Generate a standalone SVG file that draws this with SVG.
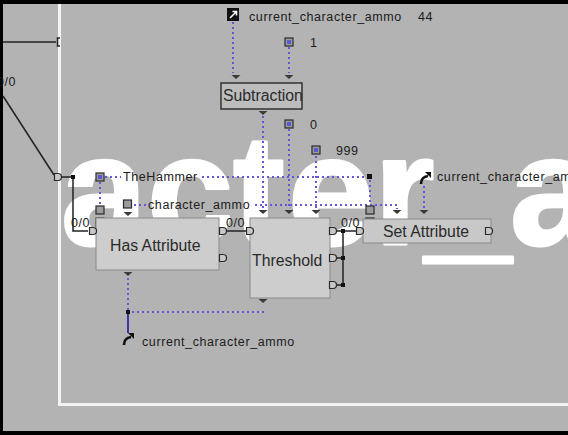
<svg xmlns="http://www.w3.org/2000/svg" width="568" height="435" viewBox="0 0 568 435">
<style>
.dot{stroke:#6358d8;stroke-width:2;stroke-dasharray:2 3;fill:none}
.wire{stroke:#222;stroke-width:1.5;fill:none}
.lbl{font-family:"Liberation Sans",Arial,sans-serif;font-size:12.5px;letter-spacing:0.6px;fill:#1c1c1c}
.big{font-family:"Liberation Sans",Arial,sans-serif;font-size:15.8px;fill:#2a2a2a}
.node{fill:#cdcdcd;stroke:#8a8a8a;stroke-width:1}
.tri{fill:#3a3a3a}
.port{fill:#c8c8c8;stroke:#2a2a2a;stroke-width:1.2}
.sq{fill:#9c9c9c;stroke:#2a2a2a;stroke-width:1.2}
.bd{fill:#111}
</style>
<defs>
<clipPath id="inner"><rect x="61" y="4" width="507" height="399"/></clipPath>
<path id="D" d="M-3.5,-3.5 h3.5 a3.5 3.5 0 0 1 0 7 h-3.5 z"/>
<path id="tri" d="M-4.5,0 h9 l-4.5,4 z"/>
<rect id="sq" x="-4" y="-4" width="8" height="8"/>
</defs>

<rect x="0" y="0" width="568" height="435" fill="#b3b3b3"/>

<g clip-path="url(#inner)">
<text font-family="'Liberation Sans',Arial,sans-serif" font-weight="bold" font-size="155" fill="#ffffff" stroke="#ffffff" stroke-width="3" stroke-linejoin="round" y="244" x="-266 -180 -85 1 61 147 233 288 374 425 510">character_a</text>
</g>

<g id="frame">
<rect x="58" y="4" width="3" height="402" fill="#f4f4f4"/>
<rect x="58" y="403" width="510" height="3" fill="#f4f4f4"/>
<rect x="0" y="0" width="568" height="4" fill="#000"/>
<rect x="0" y="0" width="3" height="435" fill="#000"/>
<rect x="0" y="431" width="568" height="4" fill="#000"/>
</g>

<g id="connectors">
<line class="dot" x1="233" y1="22" x2="233" y2="73"/>
<line class="dot" x1="289" y1="47" x2="289" y2="73"/>
<line class="dot" x1="263" y1="116" x2="263" y2="208"/>
<line class="dot" x1="289" y1="129" x2="289" y2="208"/>
<line class="dot" x1="316" y1="156" x2="316" y2="208"/>
<line class="dot" x1="105" y1="177" x2="121" y2="177"/>
<line class="dot" x1="202" y1="177" x2="367" y2="177"/>
<line class="dot" x1="370" y1="180" x2="370" y2="205"/>
<line class="dot" x1="100" y1="182" x2="100" y2="205"/>
<line class="dot" x1="134" y1="205" x2="146" y2="205"/>
<path class="dot" d="M255,205 H397 V209"/>
<line class="dot" x1="424" y1="186" x2="424" y2="208"/>
<line class="dot" x1="128" y1="278" x2="128" y2="310"/>
<line class="dot" x1="132" y1="312" x2="264" y2="312"/>
<line x1="128" y1="314" x2="128" y2="333" stroke="#3b34a8" stroke-width="2"/>

<line class="wire" x1="3" y1="42" x2="56" y2="42" stroke-width="2.2"/>
<path d="M60,38 h-2.5 v8 h2.5" fill="none" stroke="#222" stroke-width="1.5"/>
<line class="wire" x1="3" y1="96" x2="54" y2="175"/>
<path class="wire" d="M62,177 H73 V231 H88"/>
<line class="wire" x1="227" y1="231" x2="247" y2="231"/>
<path class="wire" d="M337,231 H357 M343,231 V285 M337,258 H343 M337,285 H343"/>
<rect class="bd" x="71" y="175" width="4" height="4"/>
<rect class="bd" x="341" y="229" width="4" height="4"/>
<rect class="bd" x="341" y="256" width="4" height="4"/>
<rect class="bd" x="341" y="283" width="4" height="4"/>
<rect class="bd" x="367" y="174" width="5" height="5"/>
<rect class="bd" x="126" y="310" width="4" height="4"/>
<text class="lbl" x="-3" y="86">0/0</text>
<text class="lbl" x="71" y="227" letter-spacing="0">0/0</text>
<text class="lbl" x="226" y="227" letter-spacing="0">0/0</text>
<text class="lbl" x="341" y="227" letter-spacing="0">0/0</text>
</g>

<g id="left-port"><use href="#D" x="58" y="177" class="port"/></g>

<g id="current-ammo-top">
<rect x="227" y="8" width="12" height="13" fill="#111"/>
<path d="M230,18 L236,12 M232.5,11.5 H236.5 V15.5" stroke="#fff" stroke-width="1.6" fill="none"/>
<text class="lbl" x="249" y="21">current_character_ammo</text>
<text class="lbl" x="418" y="21">44</text>
</g>

<g id="const-1">
<use href="#sq" x="289" y="42" class="sq"/>
<rect x="287" y="40" width="4" height="4" fill="#5a5ad0"/>
<text class="lbl" x="310" y="47">1</text>
</g>

<g id="subtraction">
<use href="#tri" x="236" y="75" class="tri"/>
<use href="#tri" x="289" y="75" class="tri"/>
<rect x="221" y="83" width="81" height="26" fill="#bdbdbd" stroke="#333" stroke-width="1.5"/>
<text class="big" x="223" y="101" font-size="14.2" letter-spacing="0">Subtraction</text>
<use href="#tri" x="263" y="111" class="tri"/>
</g>

<g id="const-0">
<use href="#sq" x="289" y="124" class="sq"/>
<rect x="287" y="122" width="4" height="4" fill="#5a5ad0"/>
<text class="lbl" x="310" y="129">0</text>
</g>

<g id="const-999">
<use href="#sq" x="316" y="150" class="sq"/>
<rect x="314" y="148" width="4" height="4" fill="#5a5ad0"/>
<text class="lbl" x="336" y="155">999</text>
</g>

<g id="thehammer">
<use href="#sq" x="100" y="177" class="sq"/>
<rect x="98" y="175" width="4" height="4" fill="#5a5ad0"/>
<text class="lbl" x="123" y="181">TheHammer</text>
</g>

<g id="character-ammo">
<rect x="123.5" y="200" width="8" height="8" class="sq"/>
<text class="lbl" x="148" y="209">character_ammo</text>
</g>

<g id="current-ammo-right">
<path d="M421,184 Q421,177 428,176" stroke="#111" stroke-width="2.6" fill="none"/>
<path d="M425,172 H431 V178 Z" fill="#111"/>
<text class="lbl" x="437" y="181">current_character_ammo</text>
</g>

<g id="has-attribute">
<use href="#sq" x="100" y="210" class="sq"/>
<use href="#sq" x="100" y="222" class="sq"/>
<use href="#tri" x="128" y="212" class="tri"/>
<rect class="node" x="96" y="218" width="123" height="52"/>
<text class="big" x="110" y="251" font-size="16">Has Attribute</text>
<use href="#D" x="93" y="231" class="port"/>
<use href="#D" x="223" y="231" class="port"/>
<use href="#D" x="223" y="258" class="port"/>
<use href="#tri" x="128" y="272" class="tri"/>
</g>

<g id="threshold">
<use href="#tri" x="263" y="210" class="tri"/>
<use href="#tri" x="289" y="210" class="tri"/>
<use href="#tri" x="316" y="210" class="tri"/>
<rect class="node" x="250" y="218" width="80" height="80"/>
<text class="big" x="252" y="266" font-size="16.6">Threshold</text>
<use href="#D" x="250" y="231" class="port"/>
<use href="#D" x="333" y="231" class="port"/>
<use href="#D" x="333" y="258" class="port"/>
<use href="#D" x="333" y="285" class="port"/>
<use href="#tri" x="263" y="299" class="tri"/>
</g>

<g id="set-attribute">
<use href="#sq" x="370" y="210" class="sq"/>
<use href="#sq" x="370" y="222" class="sq"/>
<use href="#tri" x="397" y="210" class="tri"/>
<use href="#tri" x="424" y="210" class="tri"/>
<rect x="363" y="219" width="128" height="24" fill="#c8c8c8" stroke="#8a8a8a"/>
<use href="#D" x="360" y="231" class="port"/>
<text class="big" x="383" y="237">Set Attribute</text>
<use href="#D" x="489" y="231" class="port"/>
</g>

<g id="current-ammo-bottom">
<path d="M124,345 Q124,338 131,337" stroke="#111" stroke-width="2.6" fill="none"/>
<path d="M128,333 H134 V339 Z" fill="#111"/>
<text class="lbl" x="142" y="346">current_character_ammo</text>
</g>
</svg>
